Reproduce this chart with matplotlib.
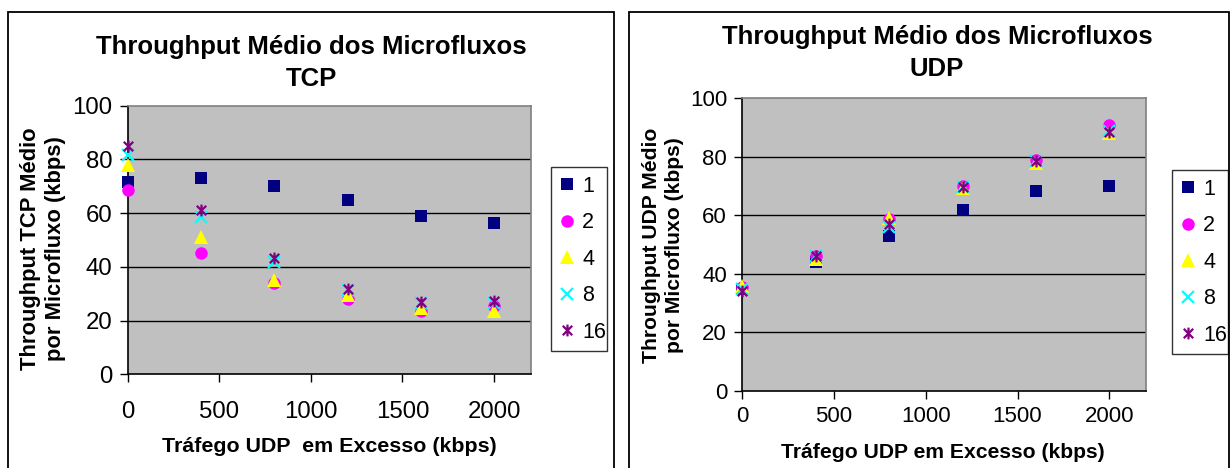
import matplotlib
matplotlib.use("Agg")
import matplotlib.pyplot as plt
from matplotlib.path import Path
from matplotlib.patches import Rectangle

plt.rcParams['font.family'] = ['Liberation Sans', 'DejaVu Sans']

x_vals = [0, 400, 800, 1200, 1600, 2000]
series_names = ["1", "2", "4", "8", "16"]

tcp_1 = [71.5, 73, 70, 65, 59, 56.3]
tcp_2 = [68.8, 45, 34, 28, 23.5, 25.5]
tcp_4 = [78, 51, 35, 29.5, 24.8, 23.6]
tcp_8 = [81.5, 58.5, 41.8, 31.3, 26.6, 26.6]
tcp_16 = [85, 61, 43.2, 31.8, 26.9, 27.2]

udp_1 = [35, 44, 53, 62, 68.3, 70]
udp_2 = [35.5, 46, 58.6, 70.2, 79, 91]
udp_4 = [36, 45, 59, 69.3, 78, 88]
udp_8 = [35, 46, 56, 69.7, 78.5, 88.7]
udp_16 = [34, 46, 57, 69.6, 78.6, 88.6]

x_ticks = [0, 500, 1000, 1500, 2000]
y_ticks = [0, 20, 40, 60, 80, 100]

asterisk = Path([(-1, -1), (1, 1), (-1, 1), (1, -1), (0, -1.25), (0, 1.25)],
                [Path.MOVETO, Path.LINETO, Path.MOVETO, Path.LINETO, Path.MOVETO, Path.LINETO])

styles = [
    dict(marker='s', color='#000080', ms=9.3, mew=0),
    dict(marker='o', color='#FF00FF', ms=9, mew=0),
    dict(marker='^', color='#FFFF00', ms=9.5, mew=0),
    dict(marker='x', color='#00FFFF', ms=8.5, mew=1.6),
    dict(marker=asterisk, color='#800080', ms=8.5, mew=1.6),
]

W, H = 1231, 468
fig = plt.figure(figsize=(W / 100, H / 100), dpi=100)

def fx(px):
    return px / W

def fy(py):
    return 1 - py / H

# chart frames
fig.patches.append(Rectangle((fx(8), fy(470)), fx(614 - 8), (470 - 12) / H,
                             transform=fig.transFigure, fill=False, ec='black', lw=1.3))
fig.patches.append(Rectangle((fx(629), fy(470)), fx(1229 - 629), (470 - 12) / H,
                             transform=fig.transFigure, fill=False, ec='black', lw=1.3))

def make_axes(rect, data, title, ylabel, xlabel, title_xy, ylabel_xy, xlabel_xy,
              legend_box, tick_fs, xpad, ylabel_fs, xlabel_fs):
    ax = fig.add_axes(rect)
    ax.set_facecolor('#C0C0C0')
    for yv in y_ticks[1:-1]:
        ax.axhline(yv, color='black', lw=1.0, zorder=1)
    for i, ys in enumerate(data):
        st = styles[i]
        ax.plot(x_vals, ys, linestyle='none', marker=st['marker'], color=st['color'],
                markersize=st['ms'], markeredgewidth=st['mew'], label=series_names[i],
                zorder=3 + i, clip_on=False)
    ax.set_xlim(0, 2200)
    ax.set_ylim(0, 100)
    ax.set_xticks(x_ticks)
    ax.set_yticks(y_ticks)
    ax.tick_params(axis='both', direction='out', length=6, width=1, labelsize=tick_fs, color='black')
    ax.tick_params(axis='x', pad=xpad)
    ax.tick_params(axis='y', pad=5)
    ax.spines['top'].set_color('#808080')
    ax.spines['right'].set_color('#808080')
    ax.spines['left'].set_color('black')
    ax.spines['bottom'].set_color('black')
    for s in ax.spines.values():
        s.set_linewidth(1.2)
    fig.text(fx(title_xy[0]), fy(title_xy[1]), title, ha='center', va='center',
             fontsize=18.5, fontweight='bold', linespacing=1.45)
    fig.text(fx(ylabel_xy[0]), fy(ylabel_xy[1]), ylabel, ha='center', va='center',
             rotation=90, fontsize=ylabel_fs, fontweight='bold', linespacing=1.3)
    fig.text(fx(xlabel_xy[0]), fy(xlabel_xy[1]), xlabel, ha='center', va='center',
             fontsize=xlabel_fs, fontweight='bold')
    lx0, ly0, lx1, ly1 = legend_box
    leg = ax.legend(loc='upper left',
                    bbox_to_anchor=(fx(lx0), fy(ly1), fx(lx1 - lx0), (ly1 - ly0) / H),
                    bbox_transform=fig.transFigure, mode='expand', fontsize=15.5, frameon=True,
                    fancybox=False, edgecolor='black', borderpad=0.4, labelspacing=0.72,
                    handlelength=0.7, handletextpad=0.35, borderaxespad=0, markerscale=1.0)
    leg.get_frame().set_linewidth(1.0)
    return ax

make_axes([fx(127.7), fy(374.3), fx(530.7 - 127.7), (374.3 - 105.7) / H],
          [tcp_1, tcp_2, tcp_4, tcp_8, tcp_16],
          "Throughput Médio dos Microfluxos\nTCP",
          "Throughput TCP Médio\npor Microfluxo (kbps)",
          "Tráfego UDP  em Excesso (kbps)",
          (311, 63), (43, 249), (329, 447), (551, 167, 607, 344),
          17.3, 13, 15.8, 15.4)

make_axes([fx(742.3), fy(391), fx(1146 - 742.3), (391 - 98.3) / H],
          [udp_1, udp_2, udp_4, udp_8, udp_16],
          "Throughput Médio dos Microfluxos\nUDP",
          "Throughput UDP Médio\npor Microfluxo (kbps)",
          "Tráfego UDP em Excesso (kbps)",
          (937, 53), (663, 245), (943, 452), (1172, 170, 1228, 343),
          16, 5, 15.2, 15.2)

fig.savefig("out.png", dpi=100, facecolor='white')
